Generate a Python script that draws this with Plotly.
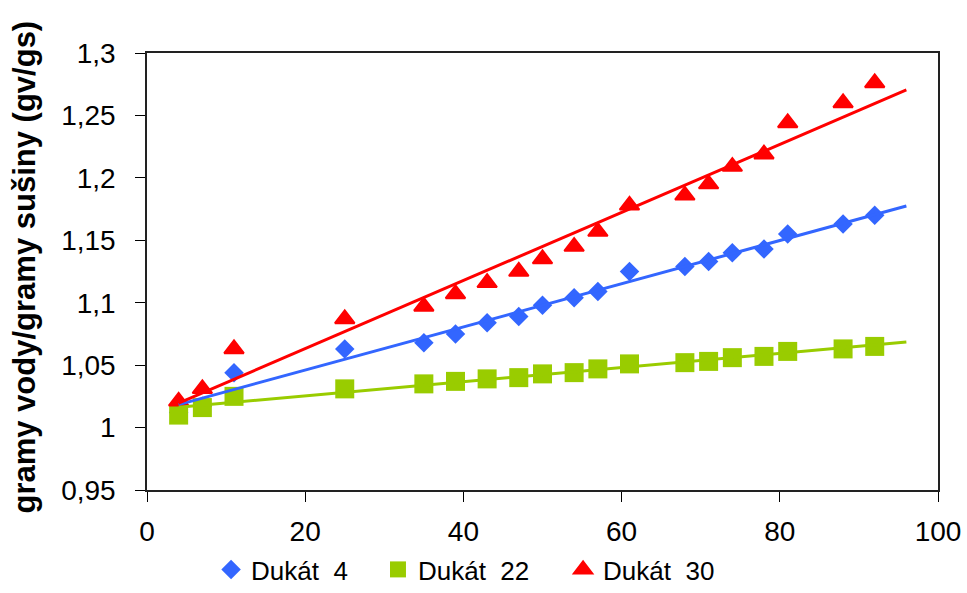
import numpy as np
import plotly.graph_objects as go

# ---- data ----
time_min = [4, 7, 11, 25, 35, 39, 43, 47, 50, 54, 57, 61, 68, 71, 74, 78, 81, 88, 92]
dukat_4 = [1.012, 1.017, 1.044, 1.063, 1.068, 1.075, 1.084, 1.089, 1.098, 1.104, 1.109,
           1.125, 1.129, 1.133, 1.140, 1.143, 1.155, 1.163, 1.170]
dukat_22 = [1.010, 1.016, 1.025, 1.031, 1.035, 1.037, 1.039, 1.040, 1.043, 1.044, 1.047,
            1.051, 1.052, 1.053, 1.056, 1.057, 1.061, 1.063, 1.065]
dukat_30 = [1.021, 1.031, 1.063, 1.087, 1.097, 1.107, 1.116, 1.125, 1.135, 1.145, 1.157,
            1.178, 1.186, 1.195, 1.209, 1.219, 1.244, 1.260, 1.276]
series_names = ["Dukát  4", "Dukát  22", "Dukát  30"]
y_tick_vals = [0.95, 1.0, 1.05, 1.1, 1.15, 1.2, 1.25, 1.3]
y_tick_labels = ["0,95", "1", "1,05", "1,1", "1,15", "1,2", "1,25", "1,3"]
x_tick_vals = [0, 20, 40, 60, 80, 100]
trend_forward = 4

FONT = "Arial, Liberation Sans, sans-serif"
series = [
    (series_names[0], dukat_4, "#3366FF", "diamond", 15, 0, "legend", 0.081),
    (series_names[1], dukat_22, "#99CC00", "square", 19, 0, "legend2", 0.292),
    (series_names[2], dukat_30, "#FF0000", "triangle-up", 17, 2, "legend3", 0.526),
]

fig = go.Figure()
for name, ys, color, sym, size, lw, leg, lx in series:
    fig.add_trace(go.Scatter(
        x=time_min, y=ys, mode="markers", name=name, legend=leg,
        marker=dict(symbol=sym, size=size, color=color, line=dict(width=lw, color=color)),
        cliponaxis=False,
    ))

xs = np.array(time_min, dtype=float)
for name, ys, color, sym, size, lw, leg, lx in series:
    k, q = np.polyfit(xs, np.array(ys), 1)
    tx = np.array([xs.min(), xs.max() + trend_forward])
    fig.add_trace(go.Scatter(
        x=tx, y=k * tx + q, mode="lines", showlegend=False,
        line=dict(color=color, width=3), hoverinfo="skip",
    ))

legend_common = dict(
    orientation="h", xanchor="left", yref="container", y=0.0, yanchor="bottom",
    font=dict(size=26, family=FONT), itemwidth=30, bgcolor="rgba(0,0,0,0)",
)
legends = {}
for name, ys, color, sym, size, lw, leg, lx in series:
    legends[leg] = dict(legend_common, x=lx)

fig.update_layout(
    width=967, height=593, autosize=False,
    margin=dict(l=147, r=29, t=53, b=103),
    paper_bgcolor="white", plot_bgcolor="white",
    font=dict(family=FONT, size=28, color="black"),
    showlegend=True,
    **legends,
    xaxis=dict(
        range=[0, 100], tickvals=x_tick_vals, ticks="outside", ticklen=10,
        tickcolor="black", showgrid=False, zeroline=False,
        showline=True, linecolor="#222222", linewidth=1.5, mirror=True,
        tickfont=dict(size=28), ticklabelstandoff=6, automargin=False,
    ),
    yaxis=dict(
        range=[0.95, 1.3], tickvals=y_tick_vals, ticktext=y_tick_labels,
        ticks="outside", ticklen=10, tickcolor="black", showgrid=False, zeroline=False,
        showline=True, linecolor="#222222", linewidth=1.5, mirror=True,
        tickfont=dict(size=28), ticklabelstandoff=14, automargin=False,
    ),
    annotations=[dict(
        text="<b>gramy vody/gramy sušiny (gv/gs)</b>", textangle=-90,
        xref="paper", yref="paper", x=-0.155, y=0.51, xanchor="center", yanchor="middle",
        showarrow=False, font=dict(size=31, family=FONT),
    )],
)

fig.write_html("out.html")
